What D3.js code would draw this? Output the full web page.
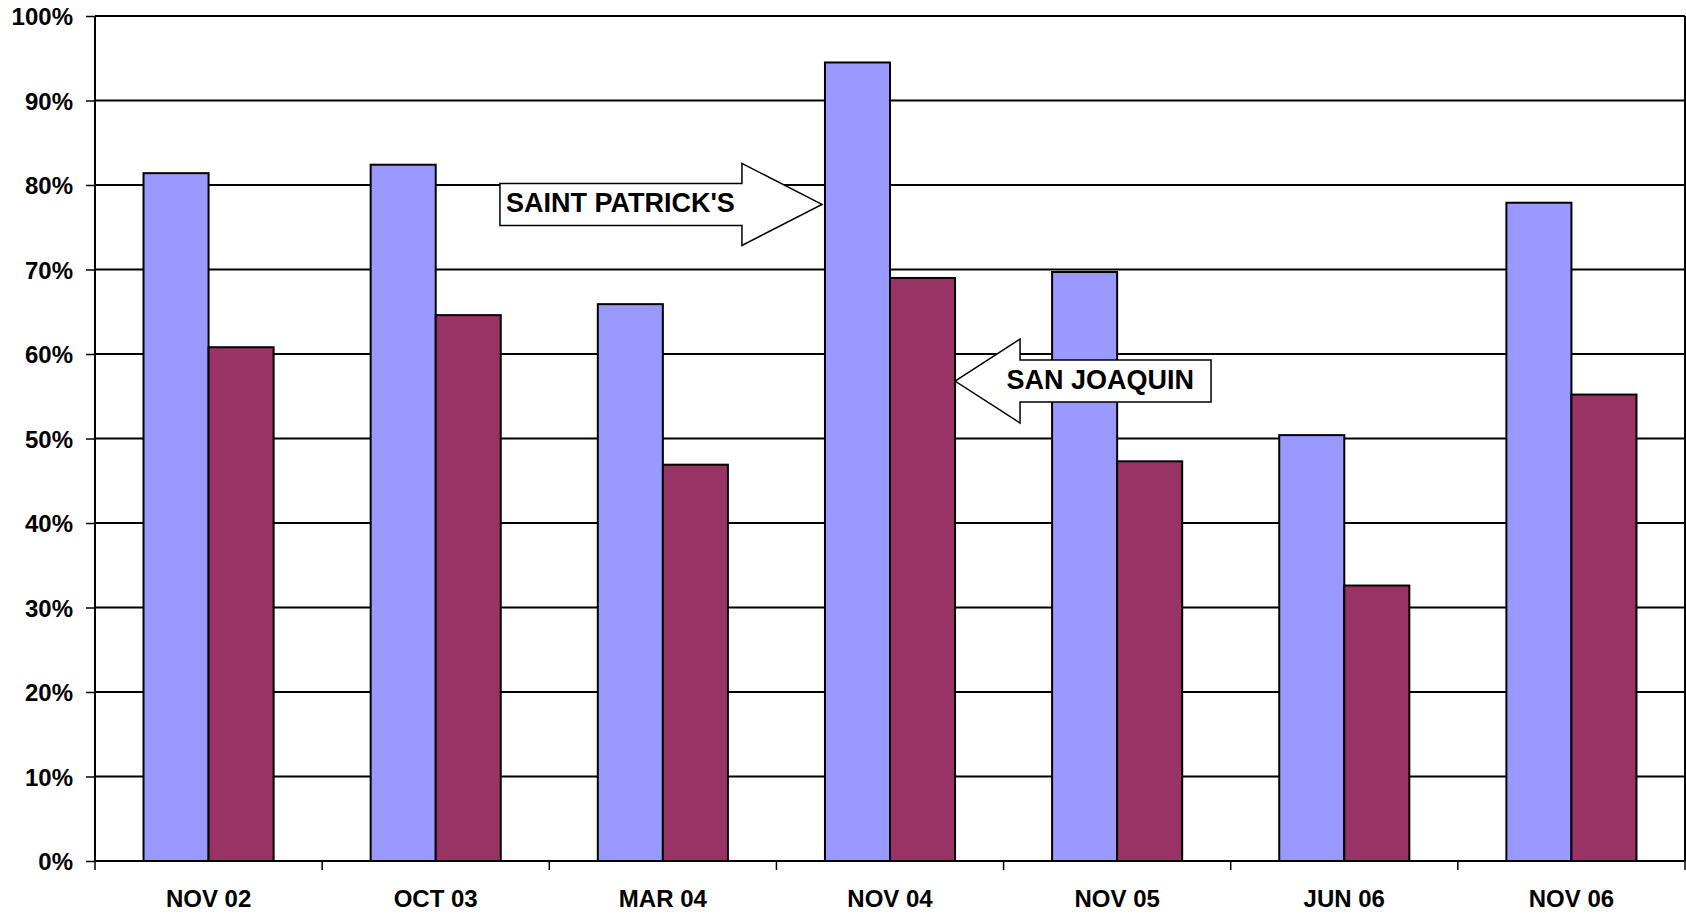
<!DOCTYPE html>
<html>
<head>
<meta charset="utf-8">
<script src="https://cdn.jsdelivr.net/npm/d3@7"></script>
<style>
  body { margin: 0; background: #fff; }
  svg text { font-family: "Liberation Sans", Arial, sans-serif; font-weight: bold; fill: #000; }
</style>
</head>
<body>
<svg width="1686" height="914"></svg>
<script>
// data
const categories = ['NOV 02', 'OCT 03', 'MAR 04', 'NOV 04', 'NOV 05', 'JUN 06', 'NOV 06'];
const series = ["SAINT PATRICK'S", 'SAN JOAQUIN'];
const saintPatricks = [0.814, 0.824, 0.659, 0.945, 0.697, 0.504, 0.779];
const sanJoaquin = [0.608, 0.646, 0.469, 0.690, 0.473, 0.326, 0.552];
const yTicks = [0, 0.1, 0.2, 0.3, 0.4, 0.5, 0.6, 0.7, 0.8, 0.9, 1.0];
const colors = ['#9999ff', '#993366'];

// callout arrows: which bar they point at and at what level
const callouts = [
  { label: "SAINT PATRICK'S", cat: 'NOV 04', series: 0, level: 0.777, dir: 'right' },
  { label: 'SAN JOAQUIN', cat: 'NOV 04', series: 1, level: 0.568, dir: 'left' }
];

(function (d3) {
  'use strict';
  const svg = d3.select('svg');
  const width = +svg.attr('width');
  const height = +svg.attr('height');
  const margin = { top: 16, right: 1, bottom: 53, left: 95 };
  const innerWidth = width - margin.left - margin.right;
  const innerHeight = height - margin.top - margin.bottom;

  const rows = categories.map((c, i) => ({ cat: c, values: [saintPatricks[i], sanJoaquin[i]] }));

  const x0 = d3.scaleBand().domain(categories).range([0, innerWidth]).padding(0);
  const x1 = d3.scaleBand().domain(d3.range(series.length))
    .range([0, x0.bandwidth()]).paddingInner(0).paddingOuter(0.746);
  const y = d3.scaleLinear().domain([0, 1]).range([innerHeight, 0]);

  const g = svg.append('g').attr('transform', `translate(${margin.left},${margin.top})`);

  // gridlines
  g.append('g').selectAll('line').data(yTicks.slice(1)).enter().append('line')
    .attr('x1', 0).attr('x2', innerWidth)
    .attr('y1', d => y(d)).attr('y2', d => y(d))
    .attr('stroke', '#000').attr('stroke-width', 2);
  // right border
  g.append('line').attr('x1', innerWidth).attr('x2', innerWidth)
    .attr('y1', 0).attr('y2', innerHeight).attr('stroke', '#000').attr('stroke-width', 2);

  // bars
  const groups = g.selectAll('.grp').data(rows).enter().append('g')
    .attr('class', 'grp')
    .attr('transform', d => `translate(${x0(d.cat)},0)`);
  groups.selectAll('rect').data(d => d.values).enter().append('rect')
    .attr('x', (d, i) => x1(i))
    .attr('width', x1.bandwidth())
    .attr('y', d => y(d))
    .attr('height', d => innerHeight - y(d))
    .attr('fill', (d, i) => colors[i])
    .attr('stroke', '#000').attr('stroke-width', 2);

  // y axis
  const yAxis = d3.axisLeft(y).tickValues(yTicks).tickFormat(d3.format('.0%'))
    .tickSize(9).tickPadding(13);
  const yAxisG = g.append('g').call(yAxis);
  yAxisG.select('.domain').attr('stroke', '#000').attr('stroke-width', 2).attr('d', `M0,0V${innerHeight}`);
  yAxisG.selectAll('.tick line').attr('stroke', '#000').attr('stroke-width', 1.5);
  yAxisG.selectAll('text').style('font-size', '24px').attr('dy', '0.36em');

  // x axis: ticks at band edges, labels centered
  const xAxisG = g.append('g').attr('transform', `translate(0,${innerHeight})`);
  xAxisG.append('line').attr('x1', 0).attr('x2', innerWidth)
    .attr('stroke', '#000').attr('stroke-width', 2);
  const edges = categories.map(c => x0(c)).concat([innerWidth]);
  xAxisG.selectAll('.xt').data(edges).enter().append('line')
    .attr('class', 'xt')
    .attr('x1', d => d).attr('x2', d => d).attr('y1', 0).attr('y2', 9)
    .attr('stroke', '#000').attr('stroke-width', 1.5);
  xAxisG.selectAll('.xl').data(categories).enter().append('text')
    .attr('class', 'xl')
    .attr('x', d => x0(d) + x0.bandwidth() / 2)
    .attr('y', 46)
    .attr('text-anchor', 'middle')
    .style('font-size', '24px')
    .text(d => d);

  // top border drawn over everything in the plot
  g.append('line').attr('x1', 0).attr('x2', innerWidth).attr('y1', 0).attr('y2', 0)
    .attr('stroke', '#000').attr('stroke-width', 2);

  // callout arrows
  const arrowPath = (tipX, tipY, dir, headLen, headHalf, shaftHalf, shaftLen) => {
    const s = dir === 'right' ? -1 : 1;
    const hb = tipX + s * headLen;
    const tail = hb + s * shaftLen;
    return `M${tipX},${tipY} L${hb},${tipY - headHalf} L${hb},${tipY - shaftHalf} ` +
      `L${tail},${tipY - shaftHalf} L${tail},${tipY + shaftHalf} L${hb},${tipY + shaftHalf} ` +
      `L${hb},${tipY + headHalf} Z`;
  };

  callouts.forEach(c => {
    const barX = x0(c.cat) + x1(c.series);
    const tipX = c.dir === 'right' ? barX - 3 : barX + x1.bandwidth();
    const tipY = y(c.level);
    const headLen = c.dir === 'right' ? 80 : 65;
    const shaftLen = c.dir === 'right' ? 242 : 191;
    const headHalf = c.dir === 'right' ? 41 : 42;
    const a = g.append('g');
    a.append('path')
      .attr('d', arrowPath(tipX, tipY, c.dir, headLen, headHalf, 21, shaftLen))
      .attr('fill', '#fff').attr('stroke', '#000').attr('stroke-width', 1.5);
    const t = a.append('text').style('font-size', '27px').attr('y', tipY + 8).text(c.label);
    if (c.dir === 'right') {
      t.attr('x', tipX - headLen - shaftLen + 6).attr('text-anchor', 'start');
    } else {
      t.attr('x', tipX + headLen + shaftLen - 17).attr('text-anchor', 'end');
    }
  });
}(d3));
</script>
</body>
</html>
